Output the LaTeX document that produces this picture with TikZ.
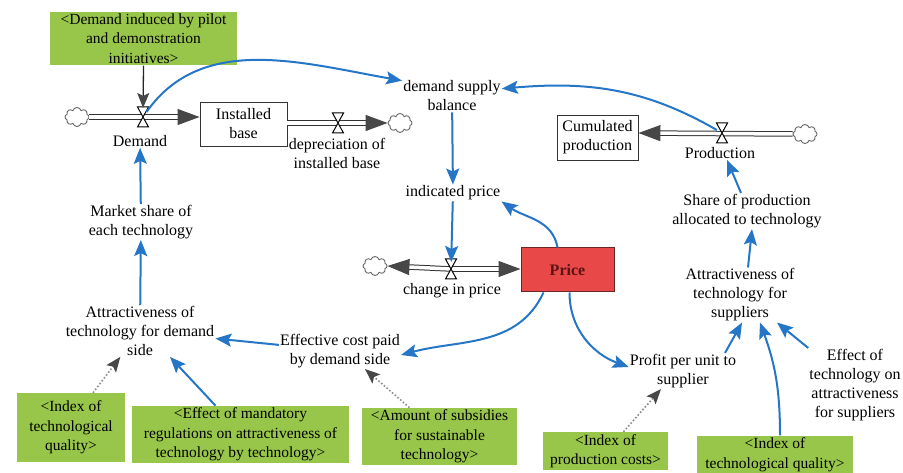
\documentclass[tikz,border=0pt]{standalone}
\usepackage{fontspec}
\setmainfont{Liberation Serif}
\usepackage{tikz}
\usetikzlibrary{arrows.meta}
\usetikzlibrary{shapes.symbols}

\definecolor{linkblue}{RGB}{38,118,200}
\definecolor{shadowgreen}{RGB}{152,198,74}
\definecolor{pricered}{RGB}{232,72,72}
\definecolor{priceline}{RGB}{105,40,40}
\definecolor{pricetext}{RGB}{90,20,20}

\tikzset{
  every node/.style={font=\fontsize{16}{19}\selectfont},
  var/.style={align=center, inner sep=1pt},
  stock/.style={draw=black!80, line width=0.9pt, fill=white, align=center, inner sep=2pt},
  pricebox/.style={draw=priceline, line width=1pt, fill=pricered, text=pricetext, font=\fontsize{16}{19}\selectfont\bfseries},
  shadowbox/.style={fill=shadowgreen, align=center, inner sep=2pt, font=\fontsize{15.5}{19.5}\selectfont},
  cloudnode/.style={cloud, cloud puffs=8, aspect=1.3, draw=black!60, line width=0.9pt, fill=white, minimum width=24pt, minimum height=19pt, inner sep=0pt},
  flowpipe/.style={draw=black!80, line width=1pt, double=white, double distance=3.5pt},
  pipetip/.style={-{Triangle[length=22pt,width=16pt,color=black!72]}},
  bluelink/.style={draw=linkblue, line width=2pt, -{Stealth[length=16pt,width=13pt,inset=3pt]}},
  dotlink/.style={draw=black!45, line width=1.6pt, dotted, -{Stealth[length=15pt,width=12pt,inset=3pt,color=black!72]}},
  blacklink/.style={draw=black!85, line width=1.3pt, -{Stealth[length=15pt,width=12pt,inset=3pt,color=black!72]}},
  valve/.pic={
    \draw[fill=white, line width=1pt] (-5.5,-10) -- (5.5,-10) -- (-5.5,10) -- (5.5,10) -- cycle;
  }
}

\begin{document}
\begin{tikzpicture}[x=1pt, y=-1pt]
    \useasboundingbox (0,0) rectangle (903,473);

    % stocks, flows and clouds
    \node[cloudnode] (cloudA) at (77,117) {};
    \node[stock, minimum width=87, minimum height=44] (base) at (243.5,124) {Installed\\base};
    \node[cloudnode] (cloudB) at (400,123) {};
    \node[cloudnode] (cloudC) at (375,266) {};
    \node[pricebox, minimum width=93, minimum height=44] (price) at (567.5,270) {Price};
    \node[stock, minimum width=81, minimum height=45] (cumul) at (597.5,137.5) {Cumulated\\production};
    \node[cloudnode] (cloudD) at (805,134) {};
    \coordinate (dvalve) at (143,117);
    \coordinate (dep) at (338,123);
    \coordinate (cvalve) at (451,269);
    \coordinate (pvalve) at (722,133);

    \draw[flowpipe, pipetip] (cloudA.east) -- (dvalve -| base.west);
    \draw[flowpipe, pipetip] (base.east |- dep) -- (cloudB.west);
    \draw[flowpipe, pipetip] (cvalve) -- (cvalve -| price.west);
    \draw[flowpipe, pipetip] (cvalve) -- (cloudC.east);
    \draw[flowpipe, pipetip] (cloudD.west) -- (pvalve -| cumul.east);

    \pic at (dvalve) {valve};
    \pic at (dep) {valve};
    \pic at (cvalve) {valve};
    \pic at (pvalve) {valve};

    % variables
    \node[var] (demand) at (140,141) {Demand};
    \node[var] (deplabel) at (337,153) {depreciation of\\installed base};
    \node[var] (balance) at (452,96) {demand supply\\balance};
    \node[var] (indprice) at (453,193) {indicated price};
    \node[var] (change) at (452,291) {change in price};
    \node[var] (prod) at (720,153) {Production};
    \node[var] (share) at (747,211) {Share of production\\allocated to technology};
    \node[var] (attsup) at (740,295) {Attractiveness of\\technology for\\suppliers};
    \node[var] (effsup) at (855,385) {Effect of\\technology on\\attractiveness\\for suppliers};
    \node[var] (profit) at (683,371) {Profit per unit to\\supplier};
    \node[var] (cost) at (340,351) {Effective cost paid\\by demand side};
    \node[var] (attdem) at (140,331) {Attractiveness of\\technology for demand\\side};
    \node[var] (market) at (141,222) {Market share of\\each technology};

    % shadow variables
    \node[shadowbox, minimum width=187, minimum height=53] (pilot) at (143.5,38.5) {<Demand induced by pilot\\and demonstration\\initiatives>};
    \node[shadowbox, minimum width=108, minimum height=69] (idxq1) at (71,427.5) {<Index of\\technological\\quality>};
    \node[shadowbox, minimum width=217, minimum height=55] (mandat) at (240.5,434.5) {<Effect of mandatory\\regulations on attractiveness of\\technology by technology>};
    \node[shadowbox, minimum width=155, minimum height=53] (subsid) at (439.5,436.5) {<Amount of subsidies\\for sustainable\\technology>};
    \node[shadowbox, minimum width=125, minimum height=38] (prodcost) at (605.5,451) {<Index of\\production costs>};
    \node[shadowbox, minimum width=156, minimum height=37] (idxq2) at (775,454.5) {<Index of\\technological quality>};

    % links
    \draw[blacklink, shorten >=9pt] (pilot.south) -- (dvalve);
    \draw[bluelink, shorten <=6pt] (dvalve) to[out=55,in=170] ([yshift=-1pt]balance.north west);
    \draw[bluelink, shorten <=6pt] (pvalve) to[out=150,in=5] ([yshift=-9pt]balance.north east);
    \draw[bluelink] (balance) -- (indprice);
    \draw[bluelink, shorten >=7pt] (indprice) -- (cvalve);
    \draw[bluelink] ([xshift=-10pt]price.north) to[out=100,in=-35] (indprice.south east);
    \draw[bluelink] ([xshift=-24pt]price.south) to[out=-115,in=15] ([yshift=-4pt]cost.east);
    \draw[bluelink] ([xshift=2pt]price.south) to[out=-90,in=160] ([yshift=4pt]profit.west);
    \draw[bluelink] (cost) -- (attdem);
    \draw[bluelink] (attdem) -- (market);
    \draw[bluelink] (market) -- (demand);
    \draw[dotlink] ([xshift=22pt]idxq1.north) -- (attdem);
    \draw[bluelink] ([xshift=-25pt]mandat.north) -- ([xshift=30pt]attdem.south);
    \draw[dotlink] ([xshift=-30pt]subsid.north) -- ([xshift=25pt]cost.south);
    \draw[dotlink] ([xshift=18pt]prodcost.north) -- ([xshift=-22pt]profit.south);
    \draw[bluelink] ([xshift=42pt]profit.north) -- ([xshift=2pt]attsup.south);
    \draw[bluelink] ([xshift=5pt]idxq2.north) to[out=90,in=-70] ([xshift=20pt]attsup.south);
    \draw[bluelink] (effsup.north west) -- ([xshift=37pt]attsup.south);
    \draw[bluelink] ([xshift=8pt]attsup.north) -- ([xshift=5pt]share.south);
    \draw[bluelink] ([xshift=-6pt]share.north) -- ([xshift=7pt]prod.south);
\end{tikzpicture}
\end{document}
